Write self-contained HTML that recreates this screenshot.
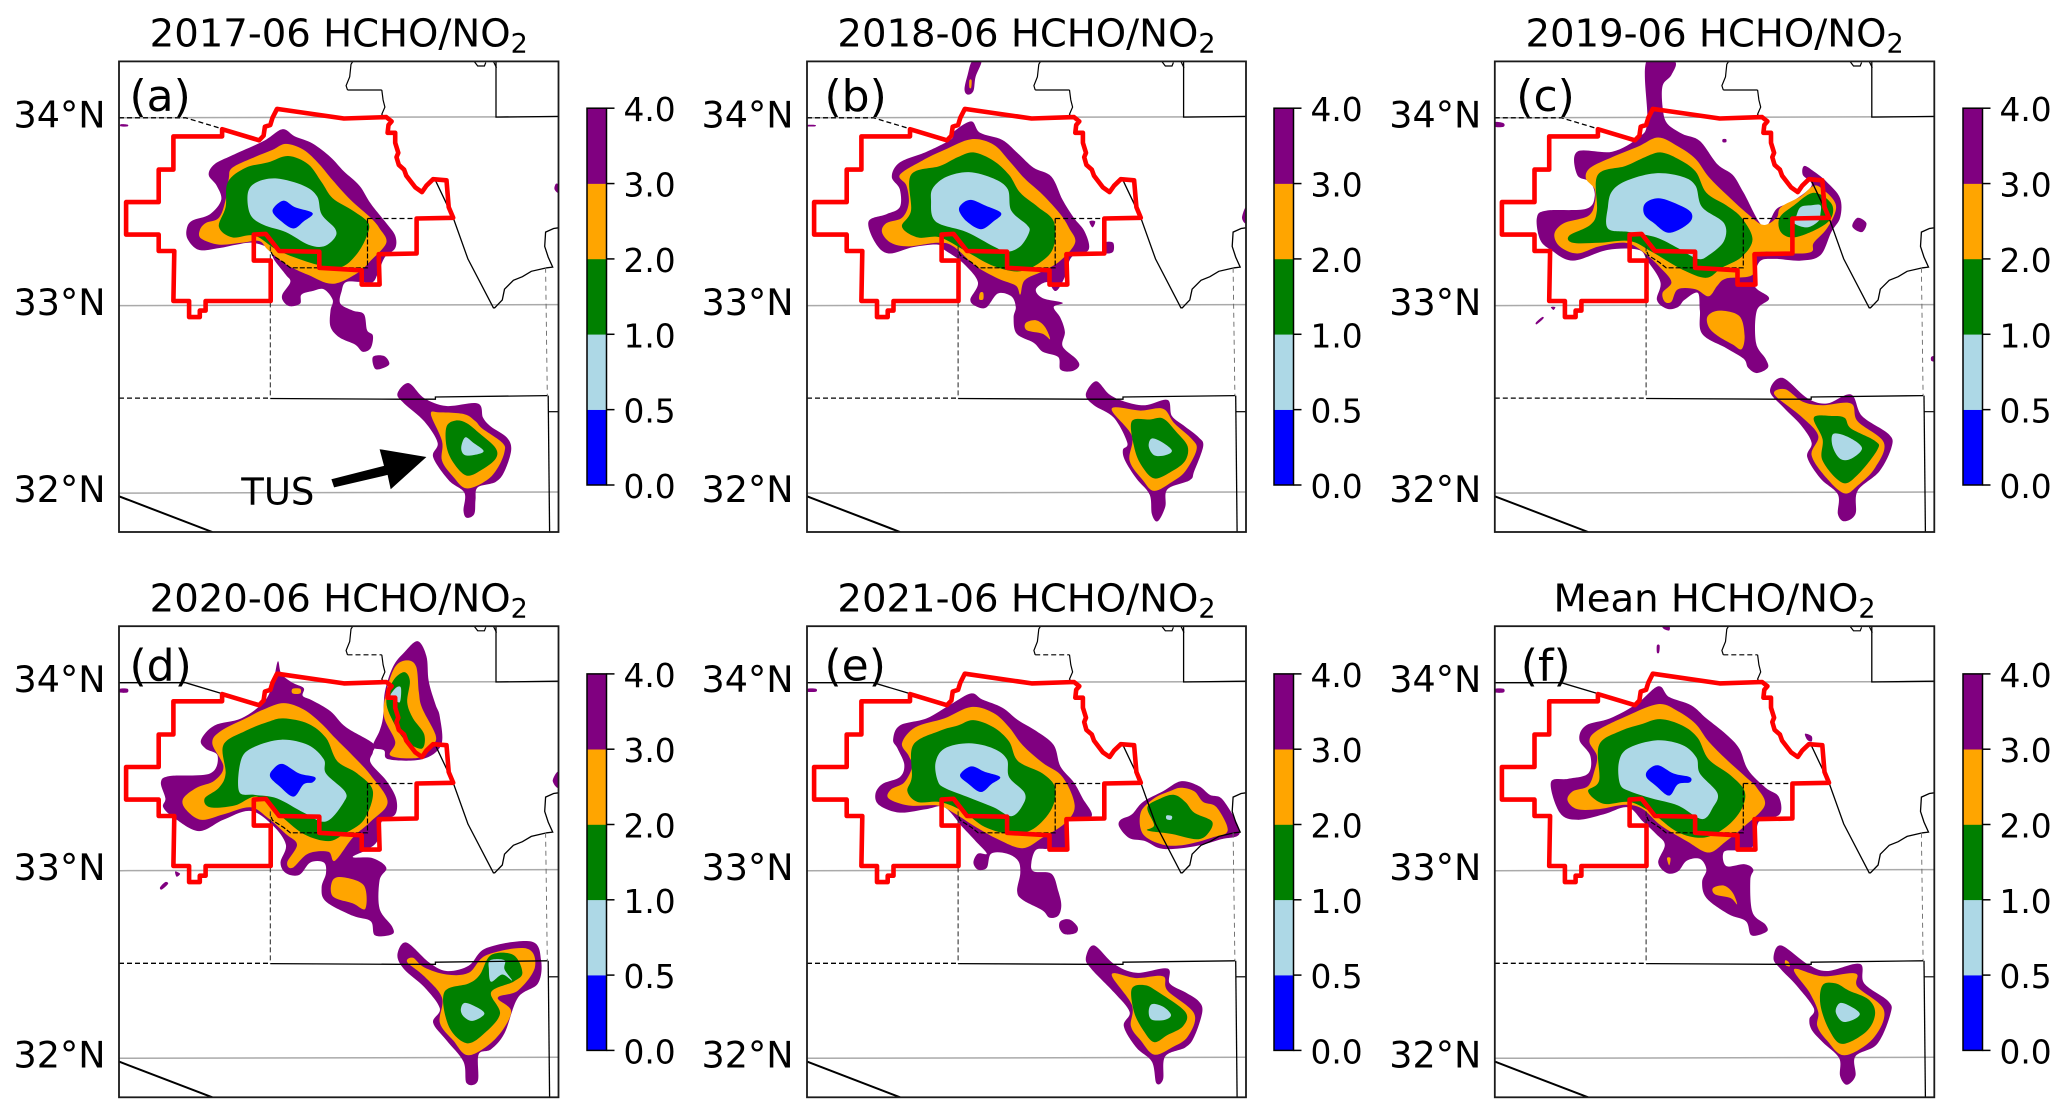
<!DOCTYPE html>
<html lang="en">
<head>
<meta charset="utf-8">
<title>HCHO/NO2 June maps</title>
<style>
html,body{margin:0;padding:0;background:#fff;}
svg{display:block;font-family:"DejaVu Sans","Liberation Sans",sans-serif;}
</style>
</head>
<body>
<svg id="figure" xmlns="http://www.w3.org/2000/svg" width="2067" height="1118" viewBox="0 0 2067 1118"></svg>
<script>
// All contour vertices are model grid [column,row] pairs, flattened. Each panel maps grid to the page with its axis functions.
const bandColors = ['#0000ff','#add8e6','#008000','#ffa500','#800080'];
const bandNames = ['0-0.5','0.5-1','1-2','2-3','3-4'];
const colorbarTicks = ['0.0','0.5','1.0','2.0','3.0','4.0'];
const latTicks = [34,33,32];
const panelTitles = ['2017-06 HCHO/NO','2018-06 HCHO/NO','2019-06 HCHO/NO','2020-06 HCHO/NO','2021-06 HCHO/NO','Mean HCHO/NO'];
const panelLetters = ['(a)','(b)','(c)','(d)','(e)','(f)'];

// Map layers, grid of panel (a)
const redBoundary = [620,305,770,332,865,328,877,340,870,350,868,372,885,372,885,400,892,428,888,440,893,462,905,475,910,492,930,525,945,538,955,520,970,502,1000,505,1005,580,1015,610,933,612,933,710,848,712,850,797,810,797,810,757,715,750,715,705,625,703,595,655,568,657,568,730,606,730,606,843,460,843,460,870,447,870,447,888,423,888,423,843,388,843,390,703,355,703,355,657,282,657,282,566,355,566,355,475,388,475,388,382,497,382,497,362,580,393,590,380,593,355,605,350,610,330];
const riverTop = [790,172,786,180,783,215,775,240,778,252];
const riverTopEnd = [855,252,858,280,862,300,855,320,860,330];
const riverCross = [778,252,855,252];
const cornerTop = [1062,172,1070,185,1085,185,1088,175];
const stateEast = [1111,172,1111,328,1251,326];
const stateEastTick = [1105,172,1112,190];
const countyEast = [975,505,1015,610,1048,725,1105,862,1108,862,1125,840,1130,810,1150,785,1170,775,1190,760,1225,750,1238,748,1228,720,1220,690,1222,650,1240,640,1251,638];
const countyFarEast = [1222,750,1226,1108];
const borderSouth = [1228,1108,1231,1490];
const borderSouthTick = [1228,1153,1251,1153];
const countyCentral = [605,690,605,1116];
const countySouth = [605,1116,890,1118,975,1118,975,1112,1226,1108];
const countyWest = [266,1115,605,1115];
const cornerSouthWest = [266,1390,475,1490];
const innerCountyTop = [823,612,930,612];
const innerCountyEdge = [823,612,823,750,650,750,635,735,610,715,605,700];
const countyNorthWest = [266,330,415,330,495,360];
const lat34Line = [266,330,1251,327];
const lat33Line = [266,856,1251,853];
const lat32Line = [266,1381,1251,1378];
const tusArrow = [742,1342,860,1305,850,1258,955,1280,875,1370,868,1330,748,1365];

// Panel (a)
const aPurple = [
[632,362,660,382,700,402,740,440,770,480,805,520,830,570,865,625,885,660,885,695,862,720,848,760,835,790,810,790,775,790,765,815,762,850,790,870,815,880,822,925,835,940,830,975,812,985,795,965,760,945,740,915,740,870,745,840,725,810,700,815,675,825,672,850,650,858,635,845,632,825,650,790,640,770,615,730,600,695,565,680,530,685,490,695,445,700,420,670,418,640,430,618,470,600,495,560,485,520,467,490,480,460,520,435,590,395],
[915,1073,950,1115,1000,1137,1070,1130,1082,1170,1100,1195,1135,1225,1145,1260,1130,1320,1110,1350,1070,1365,1065,1400,1062,1440,1045,1450,1038,1430,1040,1380,1005,1345,970,1280,980,1240,950,1180,905,1130,890,1103],
[835,1000,860,997,872,1018,860,1030,840,1033],
[270,348,285,349,285,354,270,354],
[1245,515,1251,518,1251,540,1242,530]];
const aOrange = [
[640,403,680,420,715,460,745,505,785,560,830,610,850,640,865,680,830,730,800,765,745,795,690,770,640,740,600,700,580,675,540,680,490,685,450,668,447,645,460,625,490,610,505,560,512,500,520,470,570,440,610,420],
[965,1160,985,1155,1040,1160,1065,1180,1080,1200,1125,1240,1130,1265,1115,1310,1090,1345,1045,1368,1015,1335,990,1290,990,1235]];
const aGreen = [
[645,437,690,460,720,510,745,555,790,590,825,625,820,665,800,710,770,745,735,748,680,730,620,700,570,660,520,665,490,635,505,580,510,510,550,470,600,455],
[1020,1178,1045,1185,1075,1215,1110,1255,1110,1285,1080,1315,1045,1332,1015,1295,1000,1250,1000,1195]];
const aLight = [
[620,500,680,520,710,550,720,600,750,640,750,665,725,690,690,685,640,650,590,630,560,600,555,540,575,510],
[1042,1225,1060,1240,1083,1262,1070,1272,1042,1275,1033,1255]];
const aBlue = [[634,562,660,580,700,597,680,620,657,640,630,620,610,590]];

// Panel (b)
const bPurple = [
[630,340,650,372,700,392,735,430,770,470,810,495,835,560,860,610,885,650,893,700,855,720,840,775,820,815,800,790,775,810,790,835,835,848,815,860,830,890,840,930,835,970,865,1005,872,1025,855,1040,830,1035,825,1000,790,985,770,960,732,935,725,890,730,860,720,830,690,822,665,860,645,860,628,840,645,790,610,735,570,700,555,685,500,692,445,710,415,680,400,620,440,600,470,580,470,530,452,495,470,455,530,425,585,390,590,370],
[910,1068,940,1105,975,1125,1020,1135,1070,1120,1080,1165,1110,1195,1140,1225,1150,1250,1130,1320,1120,1345,1070,1370,1065,1420,1048,1460,1035,1440,1030,1385,1000,1340,975,1290,970,1260,980,1240,950,1170,905,1135,887,1105],
[632,172,653,172,640,215,635,255,622,265,615,250,622,210],
[895,620,908,620,902,637],
[262,350,280,350,280,354,262,354],
[1246,580,1246,625,1237,610],
[930,680,948,680,948,705,930,708]];
const bOrange = [
[630,390,680,405,715,450,750,500,790,545,830,600,850,640,863,680,830,730,790,760,750,785,740,825,730,800,690,780,640,745,590,690,555,680,490,690,450,680,430,650,440,625,475,610,490,570,485,520,470,490,520,450,570,420],
[945,1145,1010,1150,1060,1145,1085,1185,1125,1230,1135,1260,1110,1320,1080,1350,1040,1375,1015,1345,985,1290,990,1220],
[752,905,775,897,795,915,807,950,790,935,755,925],
[650,820,657,820,657,838,648,838],
[626,225,631,225,630,245,626,245]];
const bGreen = [
[635,427,680,450,715,490,740,540,780,580,815,620,815,690,790,730,740,760,680,745,620,705,560,665,510,665,475,635,495,590,495,490,560,465,600,440],
[990,1180,1030,1175,1060,1172,1090,1210,1115,1250,1110,1290,1080,1320,1040,1340,1010,1300,995,1250]];
const bLight = [
[625,482,680,500,712,530,720,590,755,630,760,650,740,690,710,705,680,690,620,650,550,620,540,560,545,525,575,495],
[1035,1228,1060,1240,1080,1262,1065,1275,1040,1275,1028,1250]];
const bBlue = [[630,560,660,575,697,597,680,620,652,642,620,620,603,590,610,570]];

// Panel (c)
const cPurple = [
[608,172,672,172,665,210,645,240,645,300,655,345,690,375,730,395,770,460,805,490,830,540,875,635,905,585,940,565,985,520,965,490,968,465,990,480,1020,510,1050,555,1050,610,1030,650,1005,715,960,730,900,725,865,735,855,800,888,835,860,870,858,960,880,1005,885,1030,860,1045,840,1030,830,1005,790,975,735,935,730,870,725,820,695,840,680,860,655,865,632,840,640,790,610,730,590,700,520,700,440,730,390,700,365,670,358,610,380,590,470,585,490,550,480,510,450,490,450,425,530,425,590,385,610,340],
[918,1058,975,1115,1020,1130,1075,1105,1100,1165,1160,1215,1168,1250,1140,1320,1090,1375,1085,1440,1060,1460,1045,1440,1045,1385,1005,1340,975,1280,985,1240,960,1190,920,1140,890,1095],
[1090,610,1110,625,1100,650,1078,635],
[782,390,790,390,790,398,782,398],
[390,860,400,860,396,868],
[370,888,373,892,358,908,356,903],
[262,342,282,345,282,355,262,355],
[1258,1000,1265,998,1265,1012,1258,1010]];
const cOrange = [
[635,385,680,410,720,445,750,495,795,550,840,600,875,630,905,610,915,580,960,550,990,520,1010,530,1035,560,1040,590,1020,640,990,680,985,705,945,710,880,705,855,715,850,770,790,780,770,800,750,830,720,810,680,810,665,845,650,845,645,820,665,790,640,750,600,705,560,680,500,690,450,710,410,690,398,655,420,625,475,605,490,570,490,530,470,500,480,470,530,440,590,410],
[748,885,775,870,820,885,832,940,825,978,805,965,770,940,750,915],
[925,1090,965,1125,1010,1135,1075,1130,1090,1180,1150,1240,1130,1310,1090,1360,1060,1382,1020,1340,985,1275,1000,1220,960,1165,900,1105]];
const cGreen = [
[640,427,680,445,720,480,745,540,790,575,825,610,850,670,825,720,780,750,745,778,690,755,620,705,570,675,500,680,440,680,432,660,480,630,495,590,497,490,560,465,605,440],
[990,540,1030,570,1030,610,1000,640,945,665,915,650,912,610,945,575],
[990,1170,1030,1165,1060,1170,1075,1200,1130,1235,1135,1260,1090,1330,1055,1352,1010,1290,1010,1230]];
const cLight = [
[630,485,690,495,720,520,735,580,785,625,785,675,750,715,725,725,680,695,630,665,570,650,520,640,520,580,530,535,565,505],
[960,580,985,575,1005,575,1005,600,1000,620,975,637,945,625,950,605],
[1035,1215,1070,1225,1100,1255,1075,1285,1050,1285,1033,1250]];
const cBlue = [[635,555,675,570,710,595,705,625,660,652,625,625,603,600,605,570]];

// Panel (d)
const dPurple = [
[622,285,630,320,655,345,680,360,678,382,700,395,740,425,775,470,835,515,835,540,830,570,865,620,887,670,885,715,855,735,845,790,820,815,790,835,835,838,865,865,850,900,850,980,878,1030,878,1052,840,1055,830,1015,790,1000,730,960,720,920,730,880,725,850,695,850,670,885,640,880,628,850,640,800,610,745,560,705,500,730,445,762,390,725,365,695,370,670,360,625,380,607,470,600,487,550,460,530,450,505,480,465,540,445,590,400,610,350],
[935,228,955,270,960,340,975,405,985,440,988,520,945,560,870,560,860,535,835,525,850,480,858,440,862,370,880,300,905,260],
[910,1075,960,1130,1000,1155,1050,1140,1090,1090,1190,1072,1212,1125,1205,1190,1160,1230,1130,1330,1100,1375,1072,1390,1070,1465,1045,1470,1038,1410,1000,1350,970,1300,985,1260,950,1200,905,1150,890,1110],
[392,875,403,882,395,890],
[370,905,376,910,362,926,358,920],
[268,362,285,362,285,372,268,372],
[1250,595,1238,620,1250,640]];
const dOrange = [
[635,402,680,420,720,460,750,500,790,550,830,605,868,680,830,735,790,780,750,845,735,820,690,825,655,865,643,850,665,800,640,770,600,725,560,695,500,715,450,730,415,700,410,670,440,640,480,620,500,580,475,515,495,480,550,445,590,420],
[745,900,770,892,815,915,818,980,790,965,745,945],
[655,362,672,362,672,375,655,375],
[912,282,932,300,938,370,945,415,975,490,970,520,940,555,875,550,885,510,860,440,865,370,885,300],
[925,1118,950,1145,1000,1165,1050,1160,1090,1110,1180,1092,1198,1145,1160,1210,1115,1230,1145,1270,1110,1345,1050,1392,1015,1350,985,1300,990,1230,950,1170,912,1130]];
const dGreen = [
[635,445,690,460,730,500,755,565,800,600,835,650,815,730,770,770,735,790,680,770,620,710,575,665,525,690,470,695,458,670,490,640,505,600,500,520,550,480,600,455],
[905,315,918,340,912,400,925,445,950,490,945,530,910,510,885,465,865,400,880,340],
[1100,1110,1150,1110,1170,1160,1150,1185,1100,1215,1120,1275,1085,1330,1045,1358,1005,1310,995,1215,1050,1190,1075,1165]];
const dLight = [
[630,505,690,520,725,560,730,600,772,650,770,680,730,735,680,710,620,670,570,660,535,650,540,560,570,525],
[888,358,898,360,895,400,880,385,875,378],
[1098,1125,1130,1125,1130,1150,1147,1182,1125,1165,1100,1185,1095,1150],
[1040,1245,1065,1255,1085,1275,1060,1295,1040,1285,1032,1265]];
const dBlue = [[632,573,670,600,705,610,700,625,680,630,657,665,625,635,605,610,610,590]];

// Panel (e)
const ePurple = [
[630,375,655,392,700,415,735,450,775,480,815,520,830,580,860,625,880,670,900,720,850,730,845,810,800,812,775,815,765,850,770,875,810,882,825,930,832,970,825,1000,805,1005,790,985,745,955,733,930,740,880,735,845,710,825,675,825,665,865,645,870,635,850,645,825,665,825,640,790,610,750,570,695,530,700,470,710,425,690,415,660,430,630,470,610,480,575,465,530,455,505,470,465,530,445,585,405],
[830,1015,850,1010,868,1030,865,1048,840,1052,828,1035],
[262,362,282,362,282,370,262,370],
[1100,622,1140,635,1165,660,1195,675,1232,765,1190,785,1130,805,1060,812,1020,790,985,782,962,750,965,730,990,715,1015,680,1060,650],
[905,1083,950,1135,1000,1160,1070,1148,1075,1190,1110,1215,1140,1240,1148,1270,1130,1340,1110,1370,1065,1395,1060,1460,1045,1470,1035,1410,1000,1370,972,1310,985,1270,950,1215,900,1150,887,1120]];
const eOrange = [
[630,413,680,430,715,470,745,520,790,570,835,610,862,690,840,740,790,780,745,810,690,785,640,750,590,710,555,690,490,690,445,670,450,645,480,625,498,580,490,550,475,515,505,470,570,445],
[1100,640,1130,650,1150,680,1180,695,1205,760,1170,780,1110,800,1060,800,1015,770,1010,710,1040,670,1075,650],
[945,1165,1000,1175,1060,1170,1070,1210,1130,1275,1115,1340,1080,1370,1040,1390,1010,1350,988,1310,990,1250]];
const eGreen = [
[635,450,680,470,715,510,735,565,790,600,818,640,810,700,770,755,720,770,660,750,610,705,560,680,510,680,487,650,497,610,500,520,560,480,600,465],
[1085,660,1110,680,1130,710,1170,735,1160,770,1135,785,1080,770,1025,760,1040,745,1025,695,1055,670],
[990,1205,1020,1195,1050,1215,1110,1270,1105,1310,1070,1335,1040,1355,1015,1320,995,1270]];
const eLight = [
[625,515,680,530,710,560,715,610,750,655,745,690,720,720,680,695,620,665,570,640,555,620,550,570,570,530],
[1068,718,1080,720,1078,730,1068,728],
[1035,1248,1060,1255,1078,1278,1065,1292,1035,1292,1028,1270]];
const eBlue = [[630,580,660,595,695,610,675,630,652,652,625,630,605,605]];

// Panel (f)
const fPurple = [
[635,355,660,385,710,408,745,445,790,490,820,530,840,590,880,640,910,665,912,715,865,735,855,800,820,815,785,820,790,860,832,855,852,870,845,900,850,990,880,1025,882,1045,848,1055,835,1015,795,995,745,950,735,905,745,870,730,840,700,845,680,875,655,880,635,850,650,800,630,770,600,735,565,695,510,715,450,730,410,710,390,625,430,615,475,600,480,550,455,505,470,465,525,445,585,405],
[915,1083,975,1135,1020,1155,1095,1135,1105,1190,1160,1240,1165,1275,1135,1360,1085,1395,1085,1450,1065,1475,1050,1450,1048,1400,1010,1355,985,1320,980,1290,990,1260,950,1195,915,1150,898,1120],
[970,488,985,495,985,510,975,505],
[262,362,282,362,282,372,262,372],
[632,240,638,240,637,260,632,260],
[645,186,660,186,660,198,648,194]];
const fOrange = [
[635,405,680,425,720,460,750,510,790,560,835,610,860,640,878,690,830,750,790,790,750,822,700,790,640,745,600,700,560,688,500,700,450,700,428,675,440,650,475,635,490,590,495,550,478,510,495,480,560,440],
[760,922,785,915,805,935,815,968,800,950,765,940],
[655,838,663,838,660,858],
[925,1125,933,1130,935,1142,925,1138],
[945,1150,1010,1170,1085,1162,1090,1200,1150,1265,1125,1345,1060,1392,1020,1350,998,1310,1000,1270,980,1215]];
const fGreen = [
[640,447,690,465,725,500,750,560,800,605,832,650,825,700,790,750,740,780,680,765,620,710,570,680,510,685,475,650,500,620,500,520,550,480,600,460],
[1010,1195,1040,1190,1070,1210,1115,1235,1130,1275,1110,1325,1055,1360,1025,1320,1005,1250]];
const fLight = [
[630,507,690,520,722,555,730,600,770,655,760,695,735,728,680,690,620,670,570,650,548,630,545,570,565,530],
[1050,1245,1075,1255,1095,1275,1080,1292,1055,1297,1040,1270]];
const fBlue = [[635,577,670,600,707,610,707,625,680,630,660,662,630,635,608,610,612,590]];

const contourSets = [
  [aBlue,aLight,aGreen,aOrange,aPurple],
  [bBlue,bLight,bGreen,bOrange,bPurple],
  [cBlue,cLight,cGreen,cOrange,cPurple],
  [dBlue,dLight,dGreen,dOrange,dPurple],
  [eBlue,eLight,eGreen,eOrange,ePurple],
  [fBlue,fLight,fGreen,fOrange,fPurple]
];

const SVGNS = 'http://www.w3.org/2000/svg';
const root = document.getElementById('figure');

function make(tag, parent, name) {
  const el = document.createElementNS(SVGNS, tag);
  
  
  parent.appendChild(el);
  return el;
}

function linearScale(d0, d1, r0, r1) {
  return function (v) { return r0 + (v - d0) / (d1 - d0) * (r1 - r0); };
}

function toPoints(flat, sx, sy) {
  const out = [];
  for (let i = 0; i + 1 < flat.length; i += 2) out.push([sx(flat[i]), sy(flat[i + 1])]);
  return out;
}

function smoothPath(pts) {
  const n = pts.length;
  let d = 'M' + pts[0][0].toFixed(1) + ' ' + pts[0][1].toFixed(1);
  for (let i = 0; i < n; i++) {
    const p0 = pts[(i - 1 + n) % n], p1 = pts[i], p2 = pts[(i + 1) % n], p3 = pts[(i + 2) % n];
    const c1x = p1[0] + (p2[0] - p0[0]) / 6, c1y = p1[1] + (p2[1] - p0[1]) / 6;
    const c2x = p2[0] - (p3[0] - p1[0]) / 6, c2y = p2[1] - (p3[1] - p1[1]) / 6;
    d += 'C' + c1x.toFixed(1) + ' ' + c1y.toFixed(1) + ' ' + c2x.toFixed(1) + ' ' + c2y.toFixed(1) + ' ' + p2[0].toFixed(1) + ' ' + p2[1].toFixed(1);
  }
  return d + 'Z';
}

function drawLine(g, flat, sx, sy, name, stroke, width, dash) {
  const el = make('polyline', g, name);
  el.setAttribute('points', toPoints(flat, sx, sy).map(function (p) { return p[0].toFixed(1) + ',' + p[1].toFixed(1); }).join(' '));
  el.setAttribute('fill', 'none');
  el.setAttribute('stroke', stroke);
  el.setAttribute('stroke-width', width);
  if (dash) el.setAttribute('stroke-dasharray', dash);
  return el;
}

function drawPanel(i) {
  const col = i % 3, rowIdx = Math.floor(i / 3);
  const left = [119, 807, 1494.8][col], right = [558.5, 1246, 1934.3][col];
  const top = [61.4, 626.2][rowIdx], bottom = [532, 1097.3][rowIdx];
  const gridX = col === 0 ? [266, 1251] : col === 1 ? [262, 1246] : [262, 1265];
  const gridY = rowIdx === 0 ? [172, 1490] : [186, 1510];
  const w = right - left, h = bottom - top;

  const panel = make('g', root, 'panel-' + panelLetters[i].charAt(1));
  const clip = make('svg', panel, 'map-area');
  clip.setAttribute('x', left);
  clip.setAttribute('y', top);
  clip.setAttribute('width', w);
  clip.setAttribute('height', h);

  // Axis functions inside the clipped map area
  const x = linearScale(gridX[0], gridX[1], 0, w);
  const y = linearScale(gridY[0], gridY[1], 0, h);
  const baseX = linearScale(266, 1251, 0, w);
  const baseY = linearScale(172, 1490, 0, h);

  drawLine(clip, lat34Line, baseX, baseY, 'latitude-34-gridline', '#aaa', 1.5);
  drawLine(clip, lat33Line, baseX, baseY, 'latitude-33-gridline', '#aaa', 1.5);
  drawLine(clip, lat32Line, baseX, baseY, 'latitude-32-gridline', '#aaa', 1.5);

  const bands = contourSets[i];
  for (let b = 4; b >= 0; b--) {
    bands[b].forEach(function (poly) {
      const pts = toPoints(poly, x, y);
      const el = make('path', clip, 'contour-band-' + bandNames[b]);
      el.setAttribute('d', smoothPath(pts));
      el.setAttribute('fill', bandColors[b]);
    });
  }

  const lineDash = '5 3';
  const nwDash = rowIdx === 0 ? lineDash : null;
  const crossDash = rowIdx === 1 ? lineDash : null;
  drawLine(clip, countyNorthWest, baseX, baseY, 'county-line-northwest', '#000', 1.3, nwDash);
  drawLine(clip, riverTop, baseX, baseY, 'state-border-river', '#000', 1.2);
  drawLine(clip, riverCross, baseX, baseY, 'county-line-north', '#000', 1.2, crossDash);
  drawLine(clip, riverTopEnd, baseX, baseY, 'state-border-river-south', '#000', 1.2);
  drawLine(clip, cornerTop, baseX, baseY, 'county-corner-north', '#000', 1.2);
  drawLine(clip, stateEast, baseX, baseY, 'county-line-northeast', '#000', 1.3);
  drawLine(clip, stateEastTick, baseX, baseY, 'county-tick-north', '#000', 1.2);
  drawLine(clip, countyEast, baseX, baseY, 'county-line-east', '#000', 1.3);
  drawLine(clip, countyFarEast, baseX, baseY, 'county-line-far-east', '#666', 0.9, '5 4');
  drawLine(clip, borderSouth, baseX, baseY, 'county-line-southeast', '#000', 1.3);
  drawLine(clip, borderSouthTick, baseX, baseY, 'county-tick-southeast', '#000', 1.2);
  drawLine(clip, countyCentral, baseX, baseY, 'county-line-central', '#222', 1, lineDash);
  drawLine(clip, countySouth, baseX, baseY, 'county-line-south', '#000', 1.3);
  drawLine(clip, countyWest, baseX, baseY, 'county-line-west', '#000', 1.3, lineDash);
  drawLine(clip, cornerSouthWest, baseX, baseY, 'state-border-southwest', '#000', 2);
  drawLine(clip, innerCountyTop, baseX, baseY, 'inner-county-top', '#000', 1.2, lineDash);
  drawLine(clip, innerCountyEdge, baseX, baseY, 'inner-county-edge', '#000', 1.2, '5 2');

  const red = make('polygon', clip, 'maricopa-boundary');
  red.setAttribute('points', toPoints(redBoundary, baseX, baseY).map(function (p) { return p[0].toFixed(1) + ',' + p[1].toFixed(1); }).join(' '));
  red.setAttribute('fill', 'none');
  red.setAttribute('stroke', '#ff0000');
  red.setAttribute('stroke-width', '4.6');
  red.setAttribute('stroke-linejoin', 'round');

  const frame = make('rect', panel, 'map-frame');
  frame.setAttribute('x', left);
  frame.setAttribute('y', top);
  frame.setAttribute('width', w);
  frame.setAttribute('height', h);
  frame.setAttribute('fill', 'none');
  frame.setAttribute('stroke', '#1a1a1a');
  frame.setAttribute('stroke-width', '1.8');

  // Title with subscript
  const title = make('text', panel, 'panel-title');
  title.setAttribute('x', (left + right) / 2);
  title.setAttribute('y', rowIdx === 0 ? 46.5 : 611.5);
  title.setAttribute('text-anchor', 'middle');
  title.setAttribute('font-size', '38.6');
  title.appendChild(document.createTextNode(panelTitles[i]));
  const sub = make('tspan', title, 'title-subscript');
  sub.setAttribute('font-size', '27');
  sub.setAttribute('dy', '6');
  sub.textContent = '2';

  // Panel letter
  const letter = make('text', panel, 'panel-letter');
  letter.setAttribute('x', left + [10.5, 17.5, 21.5, 10.5, 17.5, 26][i]);
  letter.setAttribute('y', rowIdx === 0 ? top + 49.5 : top + 54.5);
  letter.setAttribute('font-size', '44');
  letter.textContent = panelLetters[i];

  // Latitude tick labels
  const latRow = function (lat) { return 330 + (34 - lat) * 525; };
  latTicks.forEach(function (lat) {
    const t = make('text', panel, 'latitude-label-' + lat);
    t.setAttribute('x', left - 13.5);
    t.setAttribute('y', top + baseY(latRow(lat)) + 9.5);
    t.setAttribute('text-anchor', 'end');
    t.setAttribute('font-size', '36.5');
    t.textContent = lat + '\u00b0N';
  });

  // Colour bar
  const barLeft = [587, 1274, 1963][col];
  const barTop = [108.2, 673.9][rowIdx], barBottom = [485, 1050.4][rowIdx];
  const barScale = linearScale(0, bandColors.length, barBottom, barTop);
  const bar = make('g', panel, 'colorbar');
  bandColors.forEach(function (c, b) {
    const r = make('rect', bar, 'colorbar-band-' + bandNames[b]);
    r.setAttribute('x', barLeft);
    r.setAttribute('y', barScale(b + 1));
    r.setAttribute('width', 19.5);
    r.setAttribute('height', barScale(b) - barScale(b + 1) + 0.3);
    r.setAttribute('fill', c);
  });
  const outline = make('rect', bar, 'colorbar-outline');
  outline.setAttribute('x', barLeft);
  outline.setAttribute('y', barTop);
  outline.setAttribute('width', 19.5);
  outline.setAttribute('height', barBottom - barTop);
  outline.setAttribute('fill', 'none');
  outline.setAttribute('stroke', '#000');
  outline.setAttribute('stroke-width', '1.5');
  colorbarTicks.forEach(function (label, k) {
    const yy = barScale(k);
    const tick = make('line', bar, 'colorbar-tick');
    tick.setAttribute('x1', barLeft + 19.5);
    tick.setAttribute('x2', barLeft + 27.5);
    tick.setAttribute('y1', yy);
    tick.setAttribute('y2', yy);
    tick.setAttribute('stroke', '#000');
    tick.setAttribute('stroke-width', '1.5');
    const t = make('text', bar, 'colorbar-label');
    t.setAttribute('x', barLeft + 36.5);
    t.setAttribute('y', yy + 13);
    t.setAttribute('font-size', '32.8');
    t.textContent = label;
  });

  // TUS annotation only on the first panel
  if (i === 0) {
    const arrow = make('polygon', clip, 'tus-arrow');
    arrow.setAttribute('points', toPoints(tusArrow, baseX, baseY).map(function (p) { return p[0].toFixed(1) + ',' + p[1].toFixed(1); }).join(' '));
    arrow.setAttribute('fill', '#000');
    const tus = make('text', panel, 'tus-label');
    tus.setAttribute('x', left + baseX(540));
    tus.setAttribute('y', top + baseY(1413));
    tus.setAttribute('font-size', '37');
    tus.textContent = 'TUS';
  }
}

for (let i = 0; i < 6; i++) drawPanel(i);
</script>
</body>
</html>
